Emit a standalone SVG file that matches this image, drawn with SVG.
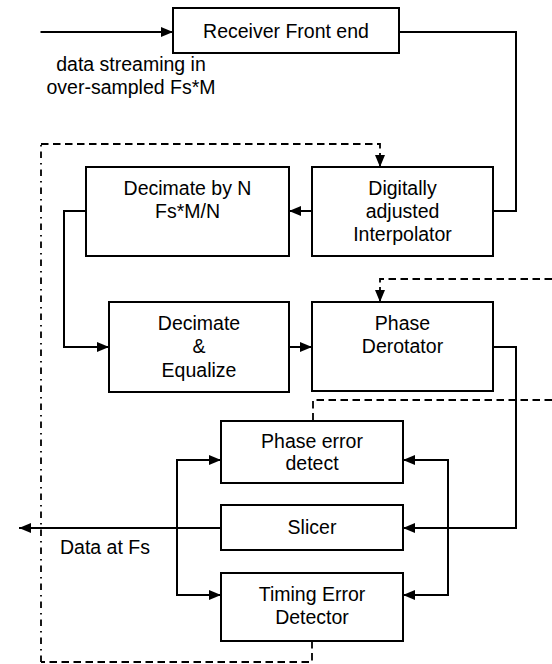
<svg xmlns="http://www.w3.org/2000/svg" width="552" height="664" viewBox="0 0 552 664">
<defs>
<marker id="arr" markerUnits="userSpaceOnUse" markerWidth="13" markerHeight="11" refX="12" refY="5" orient="auto-start-reverse">
<path d="M0,0 L12,5 L0,10 Z" fill="#000"/>
</marker>
<style>
.box{fill:#fff;stroke:#000;stroke-width:2}
text{font-family:"Liberation Sans",Arial,sans-serif;font-size:19.5px;fill:#000}
.c{text-anchor:middle}
.ln{fill:none;stroke:#000;stroke-width:2}
.arr{marker-end:url(#arr)}
.dash{fill:none;stroke:#000;stroke-width:1.8;stroke-dasharray:7.5 4.5}
.dd{fill:none;stroke:#000;stroke-width:1.8;stroke-dasharray:6.5 5 1.5 5}
</style>
</defs>
<rect width="552" height="664" fill="#fff"/>
<g id="connectors">
<path class="ln arr" d="M40.5,32 H173"/>
<path class="ln" d="M399,32 H516 V211 H493"/>
<path class="ln arr" d="M312,211 H289"/>
<path class="ln arr" d="M86,211 H64 V347 H109"/>
<path class="ln arr" d="M289,347 H312"/>
<path class="ln arr" d="M493,347 H516 V528 H403"/>
<path class="ln arr" d="M221,528 H19"/>
<path class="ln arr" d="M221,460 H177 V595 H221" marker-start="url(#arr)"/>
<path class="ln arr" d="M403,460 H448 V595 H403" marker-start="url(#arr)"/>
<path class="dash" d="M312,641 V662 H41"/>
<path class="dd" d="M41,662 V144"/>
<path class="dash arr" d="M41,144 H380 V167"/>
<path class="dash arr" d="M552,279 H380 V302"/>
<path class="dash" d="M552,400 H313 V421"/>
</g>
<g id="receiver">
<rect class="box" x="173" y="8" width="226" height="45"/>
<text class="c" x="286" y="37.5">Receiver Front end</text>
</g>
<g id="input-label">
<text class="c" x="131" y="71">data streaming in</text>
<text class="c" x="131" y="93.5">over-sampled Fs*M</text>
</g>
<g id="decimateN">
<rect class="box" x="86" y="167" width="203" height="89"/>
<text class="c" x="187.5" y="195">Decimate by N</text>
<text class="c" x="187.5" y="218">Fs*M/N</text>
</g>
<g id="interpolator">
<rect class="box" x="312" y="167" width="181" height="89"/>
<text class="c" x="402.5" y="195">Digitally</text>
<text class="c" x="402.5" y="218">adjusted</text>
<text class="c" x="402.5" y="241">Interpolator</text>
</g>
<g id="decimateEq">
<rect class="box" x="109" y="302" width="180" height="90"/>
<text class="c" x="199" y="330">Decimate</text>
<text class="c" x="199" y="353">&amp;</text>
<text class="c" x="199" y="376.5">Equalize</text>
</g>
<g id="derotator">
<rect class="box" x="312" y="302" width="181" height="89"/>
<text class="c" x="402.5" y="330">Phase</text>
<text class="c" x="402.5" y="353">Derotator</text>
</g>
<g id="phaseErr">
<rect class="box" x="221" y="421" width="182" height="62"/>
<text class="c" x="312" y="448">Phase error</text>
<text class="c" x="312" y="470">detect</text>
</g>
<g id="slicer">
<rect class="box" x="221" y="505" width="182" height="45"/>
<text class="c" x="312" y="533.5">Slicer</text>
</g>
<g id="timingErr">
<rect class="box" x="221" y="573" width="182" height="68"/>
<text class="c" x="312" y="600.5">Timing Error</text>
<text class="c" x="312" y="623.5">Detector</text>
</g>
<g id="output-label">
<text x="60" y="554">Data at Fs</text>
</g>
</svg>
